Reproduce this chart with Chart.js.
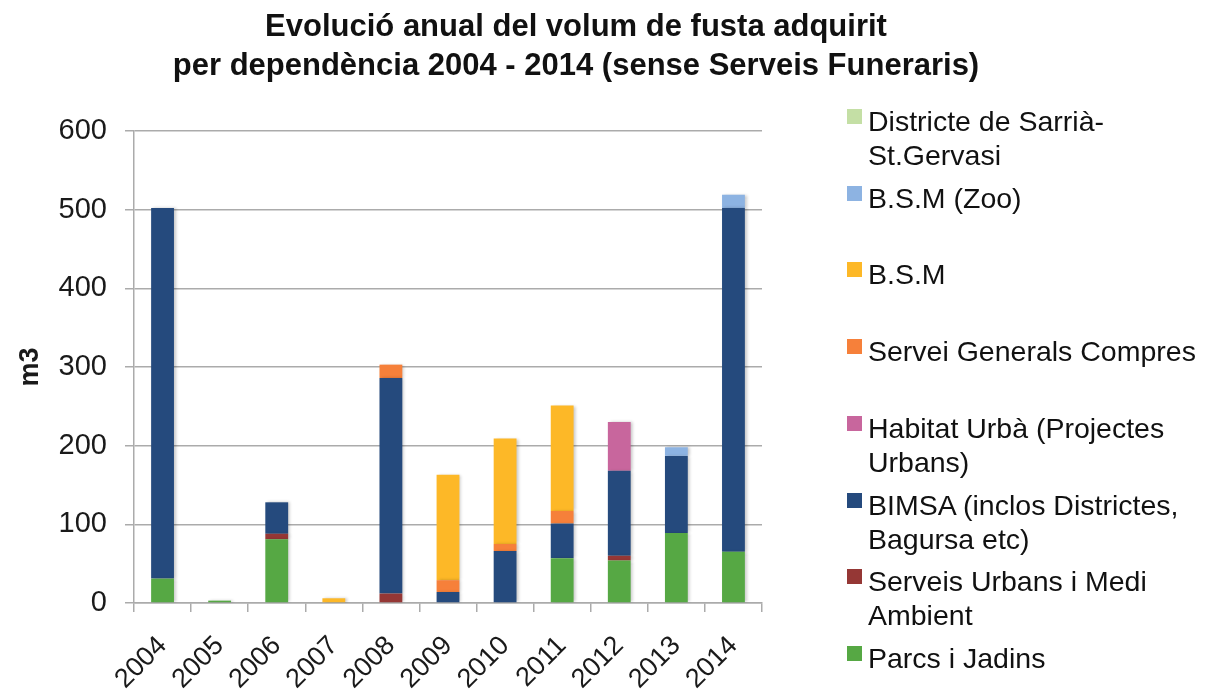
<!DOCTYPE html>
<html>
<head>
<meta charset="utf-8">
<script src="https://cdn.jsdelivr.net/npm/chart.js@4"></script>
<style>
    body { margin: 0; background: #fff; font-family: "Liberation Sans", Arial, sans-serif; color: #111; }
    #wrap { position: relative; width: 1205px; height: 698px; overflow: hidden; }
    #title { position: absolute; left: 0; top: 6px; width: 1152px; text-align: center;
             font-weight: bold; font-size: 31px; line-height: 39px; }
    #legend { position: absolute; left: 0; top: 0; }
    .item { position: absolute; left: 847px; width: 360px; }
    .box { position: absolute; left: 0; width: 15px; height: 15px; }
    .label { position: absolute; left: 21px; width: 340px; font-size: 28.5px; line-height: 34px; }
</style>
</head>
<body>
<div id="wrap">
    <canvas id="woodChart" width="1205" height="698"></canvas>
    <div id="title">Evolució anual del volum de fusta adquirit<br>per dependència 2004 - 2014 (sense Serveis Funeraris)</div>
    <div id="legend"></div>
</div>
<script>
const years = ['2004', '2005', '2006', '2007', '2008', '2009', '2010', '2011', '2012', '2013', '2014'];
const yTicks = [0, 100, 200, 300, 400, 500, 600];

// stacked from the bottom up
const parcsJardins     = [31, 3, 81, 0, 0, 0, 0, 57, 54, 89, 65];
const serveisUrbans    = [0, 0, 7, 0, 12, 0, 0, 0, 6, 0, 0];
const bimsa            = [471, 0, 40, 0, 274, 14, 66, 44, 108, 98, 437];
const habitatUrba      = [0, 0, 0, 0, 0, 0, 0, 0, 62, 0, 0];
const serveiGenerals   = [0, 0, 0, 0, 17, 15, 9, 16, 0, 0, 0];
const bsm              = [0, 0, 0, 6, 0, 134, 134, 134, 0, 0, 0];
const bsmZoo           = [0, 0, 0, 0, 0, 0, 0, 0, 0, 11, 17];
const districteSarria  = [0, 0, 0, 0, 0, 0, 0, 0, 0, 0, 0];

const series = [
    { name: 'Parcs i Jadins', data: parcsJardins, color: '#56A844' },
    { name: 'Serveis Urbans i Medi Ambient', data: serveisUrbans, color: '#953735' },
    { name: 'BIMSA (inclos Districtes, Bagursa etc)', data: bimsa, color: '#254A7D' },
    { name: 'Habitat Urbà (Projectes Urbans)', data: habitatUrba, color: '#C8669D' },
    { name: 'Servei Generals Compres', data: serveiGenerals, color: '#F6803A' },
    { name: 'B.S.M', data: bsm, color: '#FDB827' },
    { name: 'B.S.M (Zoo)', data: bsmZoo, color: '#8DB3E2' },
    { name: 'Districte de Sarrià-St.Gervasi', data: districteSarria, color: '#C4DFA5' }
];

const axisGrey = '#ababab';
const textColor = '#1a1a1a';

// soft shadow to the right of the bars, like the Excel original
const barShadow = {
    id: 'barShadow',
    beforeDatasetsDraw(chart) {
        const c = chart.ctx;
        c.save();
        c.shadowColor = 'rgba(0, 0, 0, 0.22)';
        c.shadowBlur = 3;
        c.shadowOffsetX = 2;
        c.shadowOffsetY = 0;
    },
    afterDatasetsDraw(chart) {
        chart.ctx.restore();
    }
};

function buildLegend() {
    const legend = document.getElementById('legend');
    // legend lists the series top-down, reverse of stacking order
    series.slice().reverse().forEach((s, i) => {
        const top = 104 + i * 76.7;
        const item = document.createElement('div');
        item.className = 'item';
        item.style.top = top + 'px';
        item.innerHTML = `<div class="box" style="top:5px;background:${s.color}"></div>` +
                         `<div class="label">${s.name}</div>`;
        legend.appendChild(item);
    });
}

function createChart() {
    const ctx = document.getElementById('woodChart').getContext('2d');
    const datasets = series.map(s => ({
        label: s.name,
        data: s.data,
        backgroundColor: s.color,
        borderWidth: 0,
        barPercentage: 0.4,
        categoryPercentage: 1.0
    }));

    new Chart(ctx, {
        type: 'bar',
        data: { labels: years, datasets: datasets },
        plugins: [barShadow],
        options: {
            responsive: false,
            animation: false,
            layout: {
                autoPadding: false,
                padding: { top: 131, right: 443, bottom: 0, left: 0 }
            },
            plugins: {
                legend: { display: false },
                title: { display: false },
                tooltip: { enabled: false }
            },
            scales: {
                x: {
                    stacked: true,
                    afterFit: scale => { scale.height = 95; },
                    border: { color: axisGrey, width: 1.5 },
                    grid: { offset: true, drawOnChartArea: false, color: axisGrey, lineWidth: 1.5, tickLength: 9 },
                    ticks: {
                        minRotation: 45,
                        maxRotation: 45,
                        padding: 18,
                        color: textColor,
                        font: { family: 'Liberation Sans', size: 27 }
                    }
                },
                y: {
                    stacked: true,
                    min: 0,
                    max: 600,
                    afterFit: scale => { scale.width = 134; },
                    afterBuildTicks: scale => { scale.ticks = yTicks.map(v => ({ value: v })); },
                    border: { color: axisGrey, width: 1.5 },
                    grid: { color: axisGrey, lineWidth: 1.5, tickLength: 9 },
                    ticks: {
                        padding: 18,
                        color: textColor,
                        font: { family: 'Liberation Sans', size: 29 }
                    },
                    title: {
                        display: true,
                        text: 'm3',
                        color: textColor,
                        padding: { top: 14, bottom: 0 },
                        font: { family: 'Liberation Sans', size: 27, weight: 'bold' }
                    }
                }
            }
        }
    });
}

buildLegend();
createChart();
</script>
</body>
</html>
